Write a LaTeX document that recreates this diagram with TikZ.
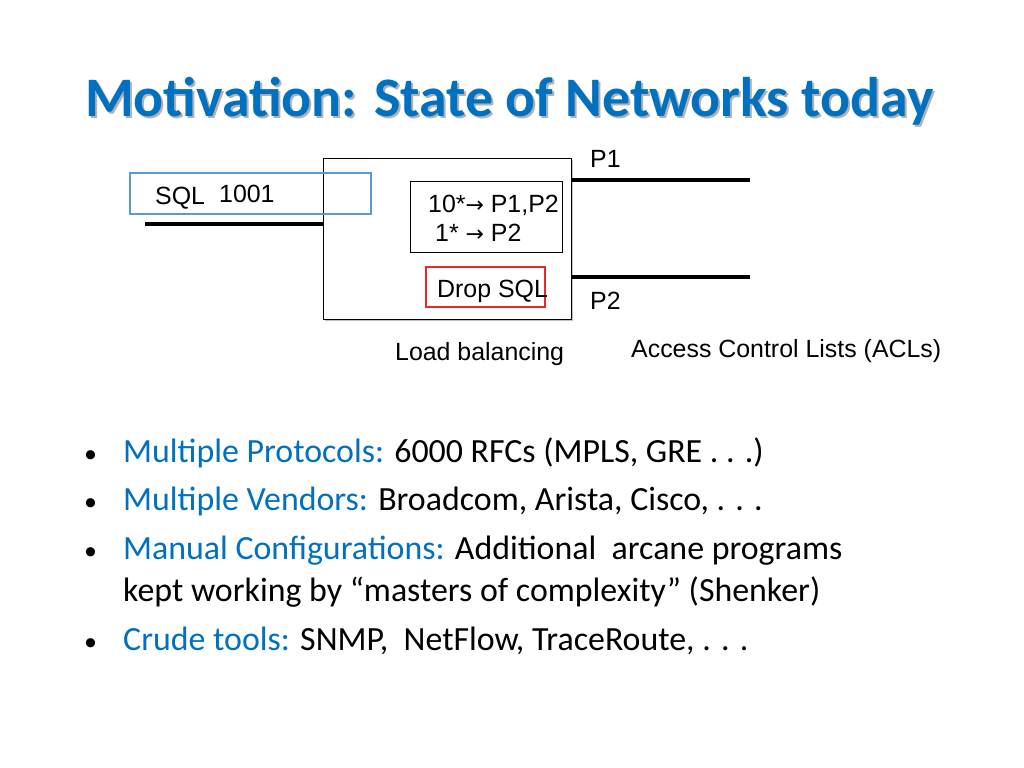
\documentclass[tikz,border=0pt]{standalone}
\usepackage{fontspec}
\setmainfont{Carlito}
\newfontfamily\arial{Liberation Sans}
\newfontfamily\dejavu{DejaVu Sans}
\definecolor{tblue}{RGB}{0,112,192}
\definecolor{lblue}{RGB}{91,155,213}
\definecolor{bred}{RGB}{230,40,40}
\tikzset{
 lbl/.style={font=\arial\fontsize{25}{30}\selectfont, inner sep=0pt, anchor=base west},
 bul/.style={font=\fontsize{34}{40}\selectfont, inner sep=0pt, anchor=base west},
 wire/.style={line width=3.2pt},
 boxs/.style={draw, line width=1pt}
}
\begin{document}
\begin{tikzpicture}[x=1bp,y=-1bp]
\useasboundingbox (0,0) rectangle (1024,768);
\fill[white] (0,0) rectangle (1024,768);
% title
\node[font=\bfseries\fontsize{56}{66}\selectfont, text=gray!60, inner sep=0pt, anchor=base west] at (87,118) {Motivation: State of Networks today};
\node (title) [font=\bfseries\fontsize{56}{66}\selectfont, text=tblue, inner sep=0pt, anchor=base west] at (85,116) {Motivation: State of Networks today};
% big box
\fill[gray!50] (325,160) rectangle (573,321);
\draw[boxs, fill=white] (323,158) rectangle (571,319);
\coordinate (bl) at (323,224);
\coordinate (br1) at (571,180);
\coordinate (br2) at (571,277);
\coordinate (lend) at (145,224);
\coordinate (p1end) at (750,180);
\coordinate (p2end) at (750,277);
\draw[wire] (lend) -- (bl);
\draw[wire] (br1) -- (p1end);
\draw[wire] (br2) -- (p2end);
% SQL box
\draw[lblue, line width=1.2pt] (130,173) rectangle (371,214);
\node (sql) [lbl] at (155,204) {SQL};
\node (n1001) [lbl] at (219,202) {1001};
% inner box
\draw[boxs] (410,181) rectangle (562,252);
\node (r1) [lbl] at (428,212) {10*{\dejavu\fontsize{22}{24}\selectfont→} P1,P2};
\node (r2) [lbl] at (435,241) {1* {\dejavu\fontsize{22}{24}\selectfont→} P2};
% red box
\draw[bred, line width=1.2pt] (426,267) rectangle (545,307);
\node (drop) [lbl] at (437,297) {Drop SQL};
\node (p1) [lbl] at (590,167) {P1};
\node (p2) [lbl] at (590,309) {P2};
\node (lb) [lbl] at (395,360) {Load balancing};
\node (acl) [lbl] at (631,357) {Access Control Lists (ACLs)};
% bullets
\foreach \y in {462,510,559,650} \node[bul, font=\fontsize{26}{30}\selectfont] at (84,\y) {•};
\node (b1) [bul] at (123,462) {\textcolor{tblue}{Multiple Protocols:} 6000 RFCs (MPLS, GRE . . .)};
\node (b2) [bul] at (123,510) {\textcolor{tblue}{Multiple Vendors:} Broadcom, Arista, Cisco, . . .};
\node (b3) [bul] at (123,559) {\textcolor{tblue}{Manual Configurations:} Additional\ \ arcane programs};
\node (b3b) [bul] at (123,601) {kept working by “masters of complexity” (Shenker)};
\node (b4) [bul] at (123,650) {\textcolor{tblue}{Crude tools:} SNMP,\ \ NetFlow, TraceRoute, . . .};
\end{tikzpicture}
\end{document}
